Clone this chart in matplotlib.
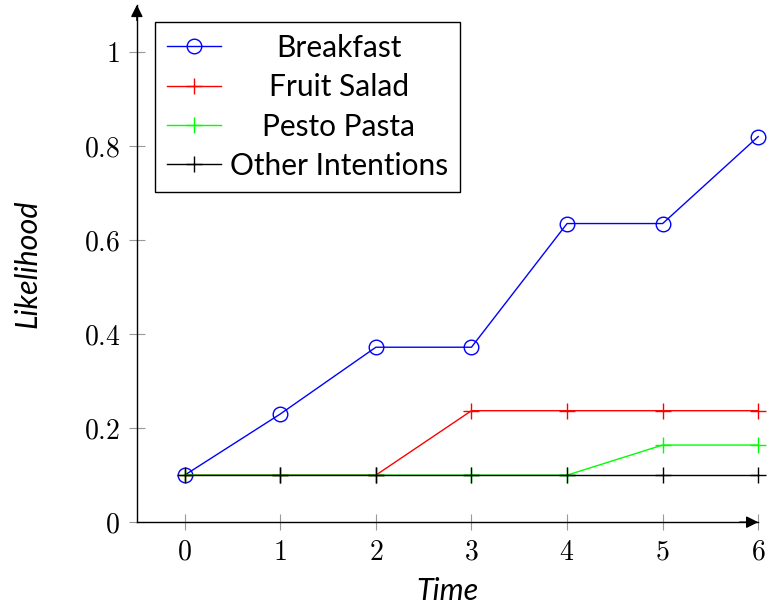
import matplotlib
matplotlib.use("Agg")
import matplotlib.pyplot as plt
from matplotlib.ticker import FuncFormatter

plt.rcParams["mathtext.fontset"] = "cm"
plt.rcParams["font.family"] = ["Lato", "DejaVu Sans"]

# data
time = [0, 1, 2, 3, 4, 5, 6]
breakfast = [0.1, 0.23, 0.372, 0.372, 0.635, 0.635, 0.82]
fruit_salad = [0.1, 0.1, 0.1, 0.237, 0.237, 0.237, 0.237]
pesto_pasta = [0.1, 0.1, 0.1, 0.1, 0.1, 0.164, 0.164]
other = [0.1, 0.1, 0.1, 0.1, 0.1, 0.1, 0.1]
labels = ["Breakfast", "Fruit Salad", "Pesto Pasta", "Other Intentions"]

fig = plt.figure(figsize=(7.69, 6.1), dpi=100)
ax = fig.add_axes([0.178, 0.144, 0.808, 0.848])

lw = 1.0
ax.plot(time, breakfast, color="blue", lw=lw, marker="o", ms=10.5, mfc="none",
        mew=1.0, label=labels[0], clip_on=False, zorder=3)
ax.plot(time, fruit_salad, color="red", lw=lw, marker="+", ms=11, mew=1.0,
        label=labels[1], clip_on=False, zorder=3)
ax.plot(time, pesto_pasta, color="#00ff00", lw=lw, marker="+", ms=11, mew=1.0,
        label=labels[2], clip_on=False, zorder=3)
ax.plot(time, other, color="black", lw=lw, marker="+", ms=11, mew=1.0,
        label=labels[3], clip_on=False, zorder=3)

ax.set_xlim(-0.5, 6.0)
ax.set_ylim(0, 1.1)
ax.set_xticks(time)
ax.set_yticks([0, 0.2, 0.4, 0.6, 0.8, 1.0])
fmt = FuncFormatter(lambda v, p: "$%g$" % round(v, 2))
ax.xaxis.set_major_formatter(fmt)
ax.yaxis.set_major_formatter(fmt)
ax.tick_params(direction="inout", length=12, width=0.8, color="#999999",
               labelsize=20, pad=6)

for s in ["top", "right"]:
    ax.spines[s].set_visible(False)
for s in ["left", "bottom"]:
    ax.spines[s].set_linewidth(1.0)

# arrow tips on the axes (tip sits at the axis end)
arr = dict(arrowstyle="-|>", color="black", lw=1.0, shrinkA=0, shrinkB=0,
           mutation_scale=18)
ax.annotate("", xy=(1, 0), xytext=(0.97, 0), xycoords="axes fraction",
            arrowprops=arr, annotation_clip=False)
ax.annotate("", xy=(0, 1), xytext=(0, 0.97), xycoords="axes fraction",
            arrowprops=arr, annotation_clip=False)

ax.set_xlabel("Time", fontsize=22, style="italic", labelpad=9)
ax.set_ylabel("Likelihood", fontsize=22, style="italic", labelpad=30)

leg = ax.legend(loc="upper left", bbox_to_anchor=(0.029, 0.967), fontsize=21.5,
                frameon=True, fancybox=False, edgecolor="black", framealpha=1,
                handlelength=1.8, handletextpad=0.3, labelspacing=0.38,
                borderpad=0.4, borderaxespad=0)
leg.get_frame().set_linewidth(1.0)

# centre legend labels like pgfplots
fig.canvas.draw()
r = fig.canvas.get_renderer()
widths = [t.get_window_extent(r).width for t in leg.get_texts()]
for t, w in zip(leg.get_texts(), widths):
    t.set_x((max(widths) - w) / 2)

fig.savefig("out.png", dpi=100)
